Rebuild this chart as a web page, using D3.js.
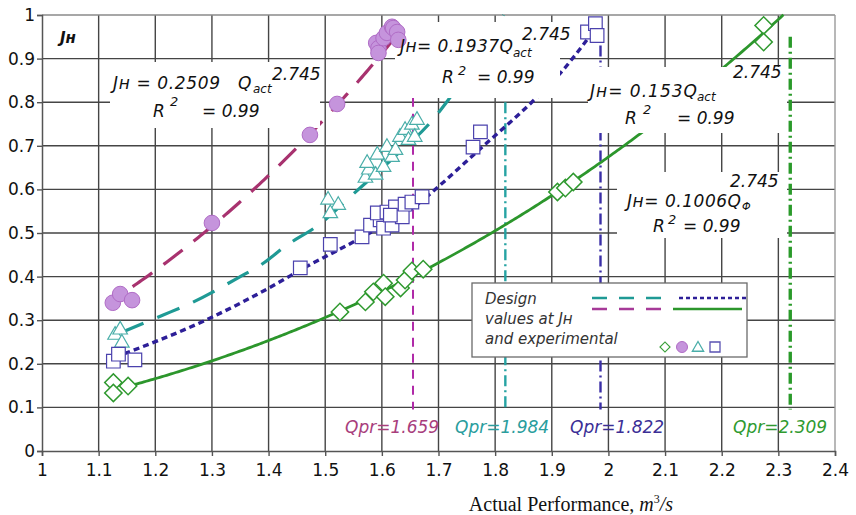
<!DOCTYPE html>
<html>
<head>
<meta charset="utf-8">
<script src="https://cdn.jsdelivr.net/npm/d3@7"></script>
<style>
  body { margin: 0; background: #fff; }
  svg { display: block; }
  text { font-family: "DejaVu Sans", sans-serif; }
</style>
</head>
<body>
<svg id="chart" width="856" height="515"></svg>
<script>
// ---- data ----
const xTicks = [1, 1.1, 1.2, 1.3, 1.4, 1.5, 1.6, 1.7, 1.8, 1.9, 2, 2.1, 2.2, 2.3, 2.4];
const xTickLabels = ["1", "1.1", "1.2", "1.3", "1.4", "1.5", "1.6", "1.7", "1.8", "1.9", "2", "2.1", "2.2", "2.3", "2.4"];
const yTicks = [0, 0.1, 0.2, 0.3, 0.4, 0.5, 0.6, 0.7, 0.8, 0.9, 1];
const yTickLabels = ["0", "0.1", "0.2", "0.3", "0.4", "0.5", "0.6", "0.7", "0.8", "0.9", "1"];

// experimental points: circles (magenta), triangles (teal), squares (blue), diamonds (green)
const circleQ = [1.125, 1.138, 1.159, 1.30, 1.473, 1.521, 1.590, 1.594, 1.594, 1.603, 1.609, 1.618, 1.620, 1.627, 1.629];
const circleJ = [0.340, 0.360, 0.346, 0.523, 0.725, 0.796, 0.936, 0.924, 0.913, 0.947, 0.959, 0.973, 0.970, 0.961, 0.943];

const triangleQ = [1.129, 1.138, 1.141, 1.505, 1.523, 1.509, 1.571, 1.577, 1.589, 1.574, 1.592, 1.603, 1.609, 1.618, 1.624, 1.632, 1.641, 1.647, 1.653, 1.662, 1.658];
const triangleJ = [0.266, 0.278, 0.248, 0.576, 0.564, 0.545, 0.626, 0.645, 0.633, 0.660, 0.679, 0.651, 0.697, 0.674, 0.690, 0.720, 0.736, 0.713, 0.748, 0.759, 0.720];

const squareQ = [1.126, 1.135, 1.164, 1.456, 1.509, 1.565, 1.580, 1.597, 1.592, 1.603, 1.618, 1.609, 1.624, 1.636, 1.641, 1.653, 1.671, 1.615, 1.761, 1.774, 1.963, 1.977, 1.980];
const squareJ = [0.206, 0.222, 0.209, 0.420, 0.474, 0.491, 0.518, 0.530, 0.546, 0.511, 0.518, 0.548, 0.560, 0.537, 0.566, 0.571, 0.583, 0.541, 0.697, 0.732, 0.961, 0.980, 0.953];

const diamondQ = [1.126, 1.126, 1.152, 1.526, 1.571, 1.585, 1.603, 1.606, 1.633, 1.641, 1.653, 1.673, 1.910, 1.924, 1.938, 2.274, 2.274];
const diamondJ = [0.157, 0.133, 0.149, 0.319, 0.342, 0.365, 0.385, 0.354, 0.374, 0.392, 0.413, 0.417, 0.594, 0.603, 0.617, 0.976, 0.938];

// design curves, magenta and green:  J = a * Q^b
const fitCoef = { magenta: 0.2509, green: 0.1006 };
const fitExp = 2.745;
const fitRange = { magenta: [1.16, 1.62], green: [1.16, 2.309] };

// design curves, teal and blue, as plotted
const tealCurveQ = [1.14, 1.214, 1.256, 1.35, 1.39, 1.43, 1.49, 1.55, 1.62, 1.69, 1.72, 1.77, 1.815];
const tealCurveJ = [0.272, 0.312, 0.335, 0.400, 0.430, 0.470, 0.520, 0.590, 0.672, 0.760, 0.810, 0.900, 1.000];
const blueCurveQ = [1.129, 1.297, 1.42, 1.456, 1.556, 1.667, 1.703, 1.765, 1.874, 1.92, 1.955, 1.972];
const blueCurveJ = [0.215, 0.305, 0.388, 0.415, 0.484, 0.570, 0.610, 0.683, 0.812, 0.874, 0.931, 0.960];

// design flow marks
const qprPos = [1.655, 1.818, 1.986, 2.321];
const qprTop = [0.81, 0.80, 0.93, 0.95];
const qprBottom = 0.095;
const qprLabels = ["Qpr=1.659", "Qpr=1.984", "Qpr=1.822", "Qpr=2.309"];

// ---- scales ----
const svg = d3.select("#chart");
const x = d3.scaleLinear().domain([1, 2.4]).range([42, 835]);
const y = d3.scaleLinear().domain([0, 1]).range([451, 15]);

// ---- grid ----
const grid = svg.append("g");
grid.selectAll("line.vx").data(xTicks.slice(1, -1)).join("line")
  .attr("x1", d => x(d)).attr("x2", d => x(d))
  .attr("y1", y(0)).attr("y2", y(1))
  .attr("stroke", "#454545").attr("stroke-width", 1.4);
grid.selectAll("line.hy").data(yTicks.slice(1, -1)).join("line")
  .attr("x1", x(1)).attr("x2", x(2.4))
  .attr("y1", d => y(d)).attr("y2", d => y(d))
  .attr("stroke", "#454545").attr("stroke-width", 1.4);
// outer frame (top and right lighter)
grid.append("line").attr("x1", x(1)).attr("x2", x(2.4)).attr("y1", y(1)).attr("y2", y(1))
  .attr("stroke", "#8a8a8a").attr("stroke-width", 1.4);
grid.append("line").attr("x1", x(2.4)).attr("x2", x(2.4)).attr("y1", y(0)).attr("y2", y(1))
  .attr("stroke", "#9a9a9a").attr("stroke-width", 1.4);

// ---- axes ----
const xAxis = svg.append("g").attr("transform", `translate(0,${y(0)})`)
  .call(d3.axisBottom(x).tickValues(xTicks).tickSize(5).tickPadding(8)
    .tickFormat((d, i) => xTickLabels[i]));
const yAxis = svg.append("g").attr("transform", `translate(${x(1)},0)`)
  .call(d3.axisLeft(y).tickValues(yTicks).tickSize(5).tickPadding(2)
    .tickFormat((d, i) => yTickLabels[i]));
[xAxis, yAxis].forEach(a => {
  a.select(".domain").attr("stroke", "#555").attr("stroke-width", 1.5);
  a.selectAll(".tick line").attr("stroke", "#555").attr("stroke-width", 1.4);
  a.selectAll(".tick text").attr("fill", "#111").style("font-family", "'DejaVu Sans', sans-serif").style("font-size", "17px");
});

// ---- design flow vertical marks ----
const qprColors = ["#b02aa8", "#26a3a3", "#3a2ea6", "#2a9a2a"];
const qprDash = ["9,7", "11,4,2,4", "11,4,2,4", "11,4,2,4"];
const qprWidth = [2, 2.4, 2.4, 3.4];
qprPos.forEach((q, i) => {
  svg.append("line")
    .attr("x1", x(q)).attr("x2", x(q))
    .attr("y1", y(qprTop[i])).attr("y2", y(qprBottom))
    .attr("stroke", qprColors[i]).attr("stroke-width", qprWidth[i])
    .attr("stroke-dasharray", qprDash[i]);
});

// ---- design curves ----
const line = d3.line().x(d => x(d[0])).y(d => y(d[1]));
const smooth = d3.line().x(d => x(d[0])).y(d => y(d[1])).curve(d3.curveMonotoneX);
function powerCurve(a, r) {
  return d3.range(r[0], r[1], 0.004).concat([r[1]]).map(q => [q, a * Math.pow(q, fitExp)]);
}
function zip(qs, js) { return qs.map((q, i) => [q, js[i]]); }

svg.append("path").datum(zip(tealCurveQ, tealCurveJ)).attr("d", smooth)
  .attr("fill", "none").attr("stroke", "#1f9a95").attr("stroke-width", 3.2)
  .attr("stroke-dasharray", "24,15");
svg.append("path").datum(zip(blueCurveQ, blueCurveJ)).attr("d", smooth)
  .attr("fill", "none").attr("stroke", "#2d1f98").attr("stroke-width", 3.4)
  .attr("stroke-dasharray", "6,4");
svg.append("path").datum(powerCurve(fitCoef.magenta, fitRange.magenta)).attr("d", line)
  .attr("fill", "none").attr("stroke", "#a8326f").attr("stroke-width", 3.2)
  .attr("stroke-dasharray", "24,14");
svg.append("path").datum(powerCurve(fitCoef.green, fitRange.green)).attr("d", line)
  .attr("fill", "none").attr("stroke", "#2c962c").attr("stroke-width", 2.8);

// ---- white panels behind the fit equations ----
const panels = [
  [110, 62, 210, 66],
  [395, 22, 165, 76],
  [588, 67, 199, 66],
  [617, 172, 170, 66]
];
svg.selectAll("rect.panel").data(panels).join("rect")
  .attr("x", d => d[0]).attr("y", d => d[1]).attr("width", d => d[2]).attr("height", d => d[3])
  .attr("fill", "#fff");

// ---- experimental markers ----
const mk = svg.append("g");
mk.selectAll("path.tri").data(zip(triangleQ, triangleJ)).join("path")
  .attr("d", d3.symbol(d3.symbolTriangle, 92))
  .attr("transform", d => `translate(${x(d[0])},${y(d[1])})`)
  .attr("fill", "#fff").attr("stroke", "#4aaea9").attr("stroke-width", 1.2);
mk.selectAll("path.sq").data(zip(squareQ, squareJ)).join("path")
  .attr("d", d3.symbol(d3.symbolSquare, 185))
  .attr("transform", d => `translate(${x(d[0])},${y(d[1])})`)
  .attr("fill", "#fff").attr("stroke", "#4b42ad").attr("stroke-width", 1.2);
mk.selectAll("path.dm").data(zip(diamondQ, diamondJ)).join("path")
  .attr("d", d3.symbol(d3.symbolSquare, 150))
  .attr("transform", d => `translate(${x(d[0])},${y(d[1])}) rotate(45)`)
  .attr("fill", "#fff").attr("stroke", "#2f992f").attr("stroke-width", 1.5);
mk.selectAll("circle").data(zip(circleQ, circleJ)).join("circle")
  .attr("cx", d => x(d[0])).attr("cy", d => y(d[1])).attr("r", 7.8)
  .attr("fill", "#c594dc").attr("stroke", "#b06cc6").attr("stroke-width", 1);

// ---- equation text ----
function t(str, px, py, size, opts = {}) {
  const el = svg.append("text").attr("x", px).attr("y", py)
    .style("font-size", size + "px").style("font-style", "italic")
    .attr("fill", opts.fill || "#111").text(str);
  if (opts.len) el.attr("textLength", opts.len).attr("lengthAdjust", "spacing");
  if (opts.weight) el.style("font-weight", opts.weight);
  return el;
}
// magenta fit
t("Jн = 0.2509", 113, 89, 17, { len: 107 });
t("Q", 238, 89, 17);
t("act", 253, 93, 12);
t("2.745", 272, 80, 17);
t("R", 153, 117, 17);
t("2", 170, 106, 13);
t("= 0.99", 202, 117, 17);
// teal fit
t("Jн= 0.1937Q", 400, 52, 17, { len: 113 });
t("act", 513, 57, 12);
t("2.745", 522, 40, 17);
t("R", 442, 83, 17);
t("2", 458, 75, 13);
t("= 0.99", 477, 83, 17);
// blue fit
t("2.745", 733, 78, 17);
t("Jн= 0.153Q", 590, 97, 17, { len: 107 });
t("act", 697, 101, 12);
t("R", 625, 124, 17);
t("2", 643, 114, 13);
t("= 0.99", 677, 124, 17);
// green fit
t("2.745", 730, 187, 17);
t("Jн= 0.1006Q", 627, 207, 17, { len: 114 });
t("Φ", 742, 210, 11);
t("R", 653, 232, 17);
t("2", 668, 224, 13);
t("= 0.99", 683, 232, 17);

// y-axis name
t("Jн", 60, 43, 15, { weight: "bold" });

// design flow labels
const qprLabelX = [345, 455, 570, 733];
const qprLabelColors = ["#a83e7c", "#2a9d9d", "#3b2f96", "#2f9a2f"];
qprLabels.forEach((s, i) => t(s, qprLabelX[i], 433, 17, { fill: qprLabelColors[i] }));

// ---- legend ----
const lg = svg.append("g");
lg.append("rect").attr("x", 472).attr("y", 283).attr("width", 275).attr("height", 74)
  .attr("fill", "#fff").attr("stroke", "#6a6a6a").attr("stroke-width", 1.3);
const legendLines = ["Design", "values at Jн", "and experimental"];
legendLines.forEach((s, i) => t(s, 485, 304 + i * 20, 15, { fill: "#333" }));
lg.append("line").attr("x1", 592).attr("x2", 661).attr("y1", 298).attr("y2", 298)
  .attr("stroke", "#1f9a95").attr("stroke-width", 2.6).attr("stroke-dasharray", "15,12");
lg.append("line").attr("x1", 592).attr("x2", 661).attr("y1", 309).attr("y2", 309)
  .attr("stroke", "#a63a98").attr("stroke-width", 2.6).attr("stroke-dasharray", "15,12");
lg.append("line").attr("x1", 679).attr("x2", 747).attr("y1", 298).attr("y2", 298)
  .attr("stroke", "#2d1f98").attr("stroke-width", 2.4).attr("stroke-dasharray", "4,3");
lg.append("line").attr("x1", 673).attr("x2", 742).attr("y1", 309).attr("y2", 309)
  .attr("stroke", "#2c962c").attr("stroke-width", 2.6);
lg.append("path").attr("d", d3.symbol(d3.symbolSquare, 50))
  .attr("transform", "translate(665,347) rotate(45)")
  .attr("fill", "#fff").attr("stroke", "#3aa03a").attr("stroke-width", 1.2);
lg.append("circle").attr("cx", 682).attr("cy", 347).attr("r", 5.5)
  .attr("fill", "#c594dc").attr("stroke", "#b06cc6");
lg.append("path").attr("d", d3.symbol(d3.symbolTriangle, 55))
  .attr("transform", "translate(698,348)")
  .attr("fill", "#fff").attr("stroke", "#4aaea9").attr("stroke-width", 1.3);
lg.append("path").attr("d", d3.symbol(d3.symbolSquare, 100))
  .attr("transform", "translate(715,347)")
  .attr("fill", "#fff").attr("stroke", "#5a52b2").attr("stroke-width", 1.3);

// ---- x-axis title ----
const title = svg.append("text").attr("x", 571).attr("y", 511).attr("text-anchor", "middle")
  .style("font-family", "'Liberation Serif', 'Times New Roman', serif").style("font-size", "20px")
  .attr("fill", "#111");
title.append("tspan").text("Actual Performance, ");
title.append("tspan").style("font-style", "italic").text("m");
title.append("tspan").style("font-size", "12px").attr("dy", -8).text("3");
title.append("tspan").style("font-style", "italic").attr("dy", 8).text("/s");
</script>
</body>
</html>
